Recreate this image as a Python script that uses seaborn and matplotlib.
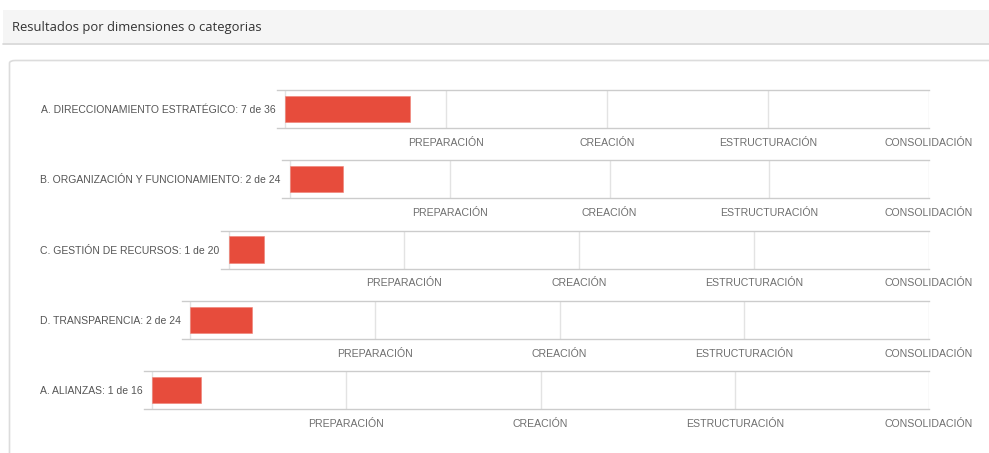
import matplotlib
matplotlib.use("Agg")
import matplotlib.pyplot as plt
from matplotlib.patches import FancyBboxPatch, Rectangle
import seaborn as sns
import pandas as pd

# ---- data ----
categories = ["A. DIRECCIONAMIENTO ESTRATÉGICO", "B. ORGANIZACIÓN Y FUNCIONAMIENTO",
              "C. GESTIÓN DE RECURSOS", "D. TRANSPARENCIA", "A. ALIANZAS"]
achieved = [7, 2, 1, 2, 1]
totals = [36, 24, 20, 24, 16]
levels = ["PREPARACIÓN", "CREACIÓN", "ESTRUCTURACIÓN", "CONSOLIDACIÓN"]
title = "Resultados por dimensiones o categorias"

# ---- layout (pixels) ----
W, H = 989, 453
zero_px = [285, 290, 229, 190, 152]
top_px = [90, 160, 230.5, 301, 371]
right_px = 929
box_h = 38
pad_px = 8

sns.set_theme(style="white")
plt.rcParams["font.family"] = ["Liberation Sans", "DejaVu Sans"]

fig = plt.figure(figsize=(W / 100, H / 100), dpi=100)
fig.patch.set_facecolor("white")

# header band
fig.patches.append(Rectangle((3 / W, 1 - 43 / H), 1, 33 / H, transform=fig.transFigure,
                             facecolor="#f5f5f5", edgecolor="none", zorder=-2))
fig.lines.append(plt.Line2D([3 / W, 1], [1 - 43.5 / H] * 2, transform=fig.transFigure,
                            color="#d6d6d6", lw=1.2, zorder=-1))
fig.text(12 / W, 1 - 27 / H, title, family=["Open Sans", "DejaVu Sans"], fontsize=9.4,
         color="#333333", va="center", ha="left")

# panel
fig.patches.append(FancyBboxPatch((9.5 / W, -0.1), 1.2, (1 - 60.5 / H) + 0.1,
                                  boxstyle="round,pad=0,rounding_size=0.006",
                                  transform=fig.transFigure, facecolor="white",
                                  edgecolor="#dcdcdc", lw=1.2, zorder=-2))

bar_color = "#e74c3c"
for cat, val, tot, z, t in zip(categories, achieved, totals, zero_px, top_px):
    left = z - pad_px
    ax = fig.add_axes([left / W, 1 - (t + box_h) / H, (right_px - left) / W, box_h / H])
    ax.set_zorder(1)
    df = pd.DataFrame({"dim": [f"{cat}: {val} de {tot}"], "val": [val]})
    xmin = -pad_px * tot / (right_px - z)
    ticks = [tot * (i + 1) / len(levels) for i in range(len(levels))]
    for tk in ticks:
        ax.axvline(tk, color="#e3e3e3", lw=1, zorder=0)
    ax.axvline(0, color="#e3e3e3", lw=1, zorder=0)
    sns.barplot(data=df, x="val", y="dim", ax=ax, color=bar_color, width=0.71,
                saturation=1, edgecolor="#ef8074", linewidth=0.4, zorder=2)
    ax.set_xlim(xmin, tot)
    ax.set_ylim(0.5, -0.5)
    ax.set_xticks(ticks)
    ax.set_xticklabels(levels)
    ax.set_xlabel("")
    ax.set_ylabel("")
    for s in ["left", "right"]:
        ax.spines[s].set_visible(False)
    for s in ["top", "bottom"]:
        ax.spines[s].set_color("#cccccc")
        ax.spines[s].set_linewidth(1)
    ax.tick_params(axis="x", length=0, pad=7, labelsize=7.6, labelcolor="#6f6f6f")
    ax.tick_params(axis="y", length=0, pad=1, labelsize=7.5, labelcolor="#555555")
    ax.set_facecolor("none")
    ax.grid(False)

fig.savefig("out.png", dpi=100)
